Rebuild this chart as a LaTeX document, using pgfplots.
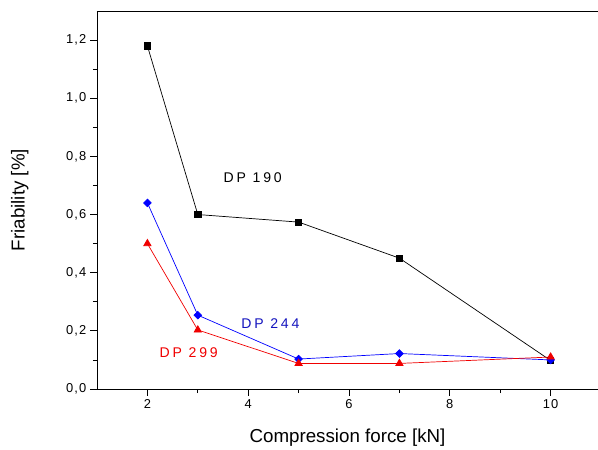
\documentclass[border=0pt]{standalone}
\usepackage{fontspec}
\setmainfont{Liberation Sans}
\newfontfamily\spaced[LetterSpace=20]{Liberation Sans}
\newfontfamily\tickfont[LetterSpace=8]{Liberation Sans}
\usepackage{pgfplots}
\pgfplotsset{compat=1.18}
\usetikzlibrary{calc}

\definecolor{dpblue}{RGB}{0,0,255}
\definecolor{dpred}{RGB}{240,0,0}
\definecolor{lblblue}{RGB}{20,20,190}

\begin{document}
\begin{tikzpicture}
\begin{axis}[
  name=ax,
  scale only axis,
  width=15.03cm, height=11.34cm,
  xmin=1, xmax=10.94, ymin=0, ymax=1.3,
  axis x line*=bottom, axis y line*=left,
  axis line style={-, line width=0.7pt},
  xtick={2,4,6,8,10}, minor xtick={3,5,7,9},
  ytick={0,0.2,...,1.2}, minor ytick={0.1,0.3,...,1.1},
  tick align=outside,
  major tick length=0.2cm, minor tick length=0.12cm,
  every tick/.style={black, line width=0.7pt},
  /pgf/number format/assume math mode=true,
  yticklabel style={/pgf/number format/.cd, fixed, fixed zerofill, precision=1, use comma},
  ticklabel style={font=\tickfont\fontsize{11}{13}\selectfont},
  xlabel={Compression force [kN]},
  ylabel={Friability [\%]},
  label style={font=\fontsize{16}{19}\selectfont},
  xlabel style={at={(axis description cs:0.5,-0.13)}, anchor=center},
  ylabel style={at={(axis description cs:-0.154,0.5)}, anchor=center},
  clip=false,
]
\draw[line width=0.7pt] (rel axis cs:0,1) -- (rel axis cs:1,1);

\addplot[black, line width=0.6pt, mark=square*, mark size=2.7pt]
  coordinates {(2,1.18)(3,0.60)(5,0.574)(7,0.45)(10,0.098)};
\addplot[dpblue, line width=0.6pt, mark=square*, mark size=2.3pt, mark options={rotate=45}]
  coordinates {(2,0.64)(3,0.254)(5,0.103)(7,0.122)(10,0.100)};
\addplot[dpred, line width=0.6pt, mark=triangle*, mark size=3.6pt]
  coordinates {(2,0.50)(3,0.203)(5,0.088)(7,0.088)(10,0.110)};

\node[font=\spaced\fontsize{12}{14}\selectfont, text=black] at (axis cs:4.09,0.726) {DP 190};
\node[font=\spaced\fontsize{12}{14}\selectfont, text=lblblue] at (axis cs:4.44,0.224) {DP 244};
\node[font=\spaced\fontsize{12}{14}\selectfont, text=dpred] at (axis cs:2.82,0.124) {DP 299};
\end{axis}
\pgfresetboundingbox
\path[use as bounding box] ($(ax.south west)+(-2.91cm,-1.8cm)$) rectangle ($(ax.north east)+(0,0.33cm)$);
\end{tikzpicture}
\end{document}
